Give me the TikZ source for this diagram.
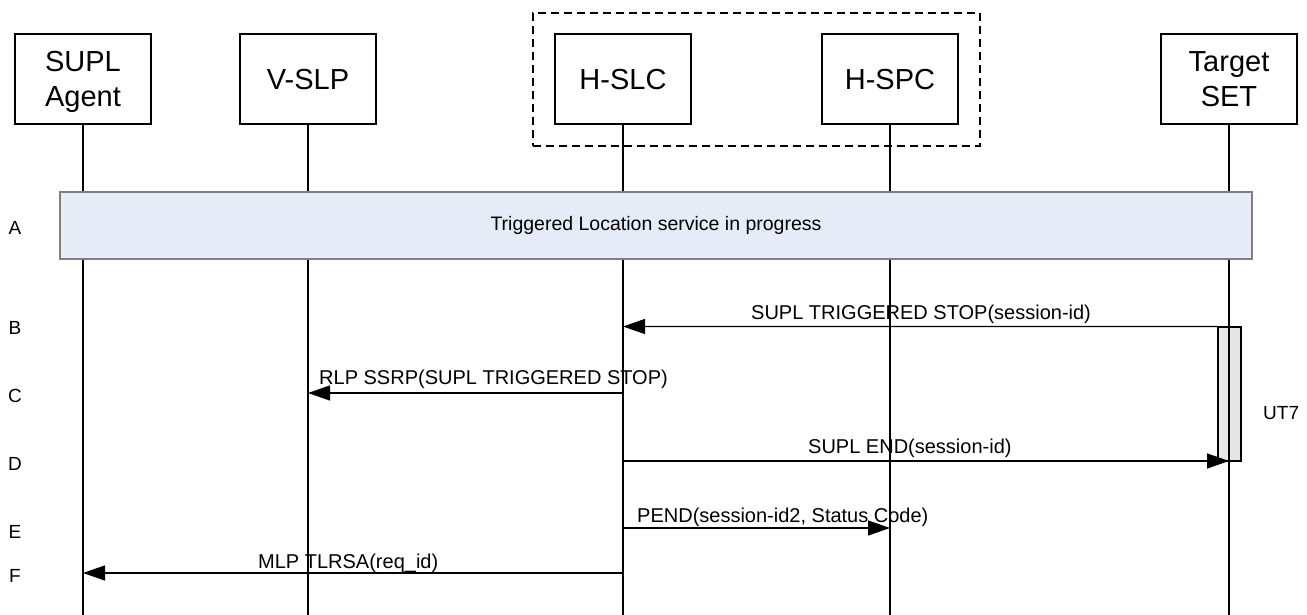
\documentclass[tikz,border=0pt]{standalone}
\usepackage{fontspec}
\setmainfont{Liberation Sans}
\usetikzlibrary{arrows.meta}
\definecolor{bandfill}{HTML}{E6ECF7}
\definecolor{bandline}{HTML}{7F7F7F}
\definecolor{actfill}{HTML}{E6E6E6}
\begin{document}
\begin{tikzpicture}[x=1pt,y=-1pt,
  actor/.style={draw, line width=1.2pt, fill=white, minimum width=136pt, minimum height=90pt,
    inner sep=0pt, text depth=0pt, align=center, font=\fontsize{29}{35}\selectfont},
  life/.style={line width=1.1pt},
  msg/.style={line width=1.3pt, -{Triangle[length=22pt,width=15pt]}},
  lbl/.style={inner sep=0pt, font=\fontsize{20}{24}\selectfont},
  rowlbl/.style={inner sep=0pt, font=\fontsize{19}{22}\selectfont}]
\useasboundingbox (0,0) rectangle (1307,615);

% actors
\node[actor] (sa) at (83,79) {SUPL\\Agent};
\node[actor] (vs) at (308,79) {V-SLP};
\node[actor] (hslc) at (623,79) {H-SLC};
\node[actor] (hspc) at (890,79) {H-SPC};
\node[actor] (ts) at (1229,79) {Target\\SET};

% group (dashed)
\node[draw, line width=1.3pt, dash pattern=on 8pt off 5pt, minimum width=447pt, minimum height=133pt, inner sep=0pt] (grp) at (756.5,79.5) {};

% activation box
\node[draw, line width=1.2pt, fill=actfill, minimum width=23pt, minimum height=134pt, inner sep=0pt] (act) at (1229.5,394) {};

% lifeline ends
\coordinate (saE) at (83,615);
\coordinate (vsE) at (308,615);
\coordinate (hslcE) at (623,615);
\coordinate (hspcE) at (890,615);
\coordinate (tsE) at (1229,615);
\draw[life] (sa.south) -- (saE);
\draw[life] (vs.south) -- (vsE);
\draw[life] (hslc.south) -- (hslcE);
\draw[life] (hspc.south) -- (hspcE);
\draw[life] (ts.south) -- (tsE);

% band A
\node[draw=bandline, line width=1.5pt, fill=bandfill, minimum width=1192pt, minimum height=67pt, inner sep=0pt,
  font=\fontsize{19.5}{23}\selectfont] (band) at (656,225.5) {Triggered Location service in progress};

% row letters
\node[rowlbl] (rA) at (15,228) {A};
\node[rowlbl] (rB) at (15,328) {B};
\node[rowlbl] (rC) at (15,396) {C};
\node[rowlbl] (rD) at (15,464) {D};
\node[rowlbl] (rE) at (15,532) {E};
\node[rowlbl] (rF) at (15,576) {F};

% message end points
\coordinate (b1) at (act.north west);
\coordinate (b2) at (623,326.5);
\coordinate (c1) at (623,393);
\coordinate (c2) at (308,393);
\coordinate (d1) at (623,461);
\coordinate (d2) at (1229,461);
\coordinate (e1) at (623,528);
\coordinate (e2) at (890,528);
\coordinate (f1) at (623,573);
\coordinate (f2) at (83,573);

\draw[msg] (b1) -- (b2);
\draw[msg] (c1) -- (c2);
\draw[msg] (d1) -- (d2);
\draw[msg] (e1) -- (e2);
\draw[msg] (f1) -- (f2);

% message labels
\node[lbl, anchor=base west] (lB) at (751,319) {SUPL TRIGGERED STOP(session-id)};
\node[lbl, anchor=base west] (lC) at (319,384) {RLP SSRP(SUPL TRIGGERED STOP)};
\node[lbl, anchor=base west] (lD) at (808,453) {SUPL END(session-id)};
\node[lbl, anchor=base west] (lE) at (637,522) {PEND(session-id2, Status Code)};
\node[lbl, anchor=base west] (lF) at (258,568) {MLP TLRSA(req\_id)};

% timer label
\node[rowlbl, anchor=west] (ut7) at (1263,413) {UT7};
\end{tikzpicture}
\end{document}
